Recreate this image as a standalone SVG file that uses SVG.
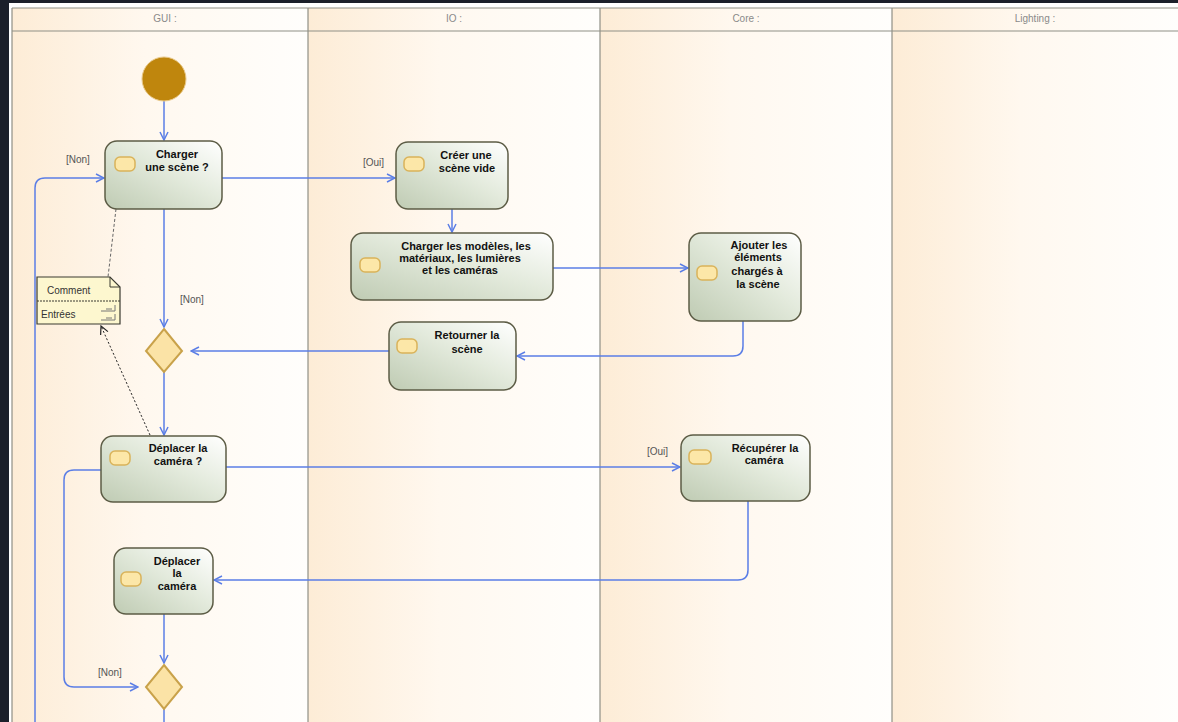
<svg xmlns="http://www.w3.org/2000/svg" width="1178" height="722" viewBox="0 0 1178 722">
  <defs>
    <linearGradient id="lane" x1="0" y1="0" x2="1" y2="0">
      <stop offset="0" stop-color="#fdecd6"/>
      <stop offset="0.45" stop-color="#fff8ef"/>
      <stop offset="1" stop-color="#fffefc"/>
    </linearGradient>
    <linearGradient id="act" x1="0" y1="1" x2="1" y2="0">
      <stop offset="0" stop-color="#bfcbb3"/>
      <stop offset="0.55" stop-color="#e3eadc"/>
      <stop offset="1" stop-color="#ffffff"/>
    </linearGradient>
    <marker id="arr" viewBox="0 0 10 10" refX="9" refY="5" markerWidth="10" markerHeight="10" markerUnits="userSpaceOnUse" orient="auto">
      <path d="M1,1 L9,5 L1,9" fill="none" stroke="#5b7ee6" stroke-width="1.5"/>
    </marker>
    <marker id="darr" viewBox="0 0 10 10" refX="9" refY="5" markerWidth="10" markerHeight="10" markerUnits="userSpaceOnUse" orient="auto">
      <path d="M1,1 L9,5 L1,9" fill="none" stroke="#222" stroke-width="1.2"/>
    </marker>
  </defs>
  <style>
    .hdr { font-family: "Liberation Sans", Arial, sans-serif; font-size: 10px; fill: #8a8a8a; text-anchor: middle; }
    .node rect.box { fill: url(#act); stroke: #5c5c45; stroke-width: 1.5; }
    .node rect.ico { fill: #fce7a8; stroke: #d9b35a; stroke-width: 1.5; }
    .node text { font-family: "Liberation Sans", Arial, sans-serif; font-size: 11px; font-weight: bold; fill: #111; text-anchor: middle; }
    .lbl { font-family: "Liberation Sans", Arial, sans-serif; font-size: 10px; fill: #555; }
    .edge { fill: none; stroke: #5b7ee6; stroke-width: 1.5; }
    .dia { fill: #fbe3a6; stroke: #c9a24a; stroke-width: 2; }
    .lane-line { stroke: #8f8f86; stroke-width: 1.2; }
  </style>

  <!-- backdrop -->
  <rect x="0" y="0" width="1178" height="722" fill="#1b1f2a"/>
  <rect x="9" y="3" width="1169" height="719" fill="#ffffff"/>

  <!-- swimlanes -->
  <g id="lanes">
    <rect x="12" y="8" width="296" height="714" fill="url(#lane)"/>
    <rect x="308" y="8" width="292" height="714" fill="url(#lane)"/>
    <rect x="600" y="8" width="292" height="714" fill="url(#lane)"/>
    <rect x="892" y="8" width="286" height="714" fill="url(#lane)"/>
    <line class="lane-line" x1="12" y1="8" x2="1178" y2="8"/>
    <line class="lane-line" x1="12" y1="31" x2="1178" y2="31"/>
    <line class="lane-line" x1="12" y1="8" x2="12" y2="722"/>
    <line class="lane-line" x1="308" y1="8" x2="308" y2="722"/>
    <line class="lane-line" x1="600" y1="8" x2="600" y2="722"/>
    <line class="lane-line" x1="892" y1="8" x2="892" y2="722"/>
    <text class="hdr" x="165" y="22">GUI :</text>
    <text class="hdr" x="454" y="22">IO :</text>
    <text class="hdr" x="746" y="22">Core :</text>
    <text class="hdr" x="1035" y="22">Lighting :</text>
  </g>

  <!-- connectors -->
  <g id="connectors">
    <path class="edge" d="M164,101 V140" marker-end="url(#arr)"/>
    <path class="edge" d="M222,178 H395" marker-end="url(#arr)"/>
    <text class="lbl" x="363" y="166">[Oui]</text>
    <path class="edge" d="M164,209 V327" marker-end="url(#arr)"/>
    <text class="lbl" x="180" y="303">[Non]</text>
    <path class="edge" d="M35,722 V188 Q35,178 45,178 H104" marker-end="url(#arr)"/>
    <text class="lbl" x="66" y="163">[Non]</text>
    <path class="edge" d="M452,209 V232" marker-end="url(#arr)"/>
    <path class="edge" d="M553,268 H688" marker-end="url(#arr)"/>
    <path class="edge" d="M743,321 V346 Q743,356 733,356 H517" marker-end="url(#arr)"/>
    <path class="edge" d="M389,351 H191" marker-end="url(#arr)"/>
    <path class="edge" d="M164,372 V435" marker-end="url(#arr)"/>
    <path class="edge" d="M226,467 H680" marker-end="url(#arr)"/>
    <text class="lbl" x="647" y="455">[Oui]</text>
    <path class="edge" d="M748,501 V570 Q748,580 738,580 H214" marker-end="url(#arr)"/>
    <path class="edge" d="M164,614 V663" marker-end="url(#arr)"/>
    <path class="edge" d="M101,470 H74 Q64,470 64,480 V677 Q64,687 74,687 H138" marker-end="url(#arr)"/>
    <text class="lbl" x="98" y="676">[Non]</text>
    <path class="edge" d="M164,709 V722"/>
    <!-- comment links -->
    <path d="M116,209 L108,277" fill="none" stroke="#666" stroke-width="1" stroke-dasharray="3,2"/>
    <path d="M150,435 L101,326" fill="none" stroke="#222" stroke-width="1" stroke-dasharray="2,2" marker-end="url(#darr)"/>
  </g>

  <!-- initial node -->
  <g id="start">
    <circle cx="164" cy="79" r="22" fill="#bf860d" stroke="#e9c98a" stroke-width="1"/>
  </g>

  <g id="charger-scene" class="node">
    <rect class="box" x="105" y="141" width="117" height="68" rx="12"/>
    <rect class="ico" x="115" y="157" width="20" height="14" rx="5"/>
    <text x="177" y="158">Charger</text>
    <text x="177" y="171">une scène ?</text>
  </g>

  <g id="creer-scene" class="node">
    <rect class="box" x="396" y="142" width="112" height="67" rx="12"/>
    <rect class="ico" x="404" y="157" width="20" height="14" rx="5"/>
    <text x="466" y="159">Créer une</text>
    <text x="467" y="172">scène vide</text>
  </g>

  <g id="charger-modeles" class="node">
    <rect class="box" x="351" y="233" width="202" height="67" rx="12"/>
    <rect class="ico" x="360" y="258" width="20" height="14" rx="5"/>
    <text x="466" y="250">Charger les modèles, les</text>
    <text x="460" y="262">matériaux, les lumières</text>
    <text x="460" y="274">et les caméras</text>
  </g>

  <g id="ajouter" class="node">
    <rect class="box" x="689" y="233" width="112" height="88" rx="12"/>
    <rect class="ico" x="697" y="266" width="20" height="14" rx="5"/>
    <text x="759" y="249">Ajouter les</text>
    <text x="758" y="261">éléments</text>
    <text x="757" y="275">chargés à</text>
    <text x="758" y="288">la scène</text>
  </g>

  <g id="retourner" class="node">
    <rect class="box" x="389" y="322" width="127" height="68" rx="12"/>
    <rect class="ico" x="397" y="339" width="20" height="14" rx="5"/>
    <text x="467" y="339">Retourner la</text>
    <text x="467" y="353">scène</text>
  </g>

  <g id="merge-1">
    <polygon class="dia" points="164,329 182,351 164,372 146,351"/>
  </g>

  <g id="deplacer-question" class="node">
    <rect class="box" x="101" y="436" width="125" height="66" rx="12"/>
    <rect class="ico" x="110" y="451" width="20" height="14" rx="5"/>
    <text x="178" y="452">Déplacer la</text>
    <text x="178" y="465">caméra ?</text>
  </g>

  <g id="recuperer" class="node">
    <rect class="box" x="681" y="435" width="129" height="66" rx="12"/>
    <rect class="ico" x="689" y="450" width="22" height="14" rx="5"/>
    <text x="765" y="452">Récupérer la</text>
    <text x="764" y="464">caméra</text>
  </g>

  <g id="deplacer" class="node">
    <rect class="box" x="114" y="548" width="99" height="66" rx="12"/>
    <rect class="ico" x="121" y="572" width="20" height="14" rx="5"/>
    <text x="177" y="565">Déplacer</text>
    <text x="177" y="577">la</text>
    <text x="177" y="590">caméra</text>
  </g>

  <g id="merge-2">
    <polygon class="dia" points="164,665 182,687 164,709 146,687"/>
  </g>

  <g id="note">
    <path d="M37,277 H110 L120,287 V324 H37 Z" fill="#fdf7cf" stroke="#3a3a30" stroke-width="1.2"/>
    <path d="M110,277 V287 H120" fill="none" stroke="#3a3a30" stroke-width="1"/>
    <line x1="37" y1="301" x2="120" y2="301" stroke="#3a3a30" stroke-width="1" stroke-dasharray="2,1"/>
    <text x="47" y="294" font-family="'Liberation Sans', Arial, sans-serif" font-size="10" fill="#333">Comment</text>
    <text x="41" y="318" font-family="'Liberation Sans', Arial, sans-serif" font-size="10" fill="#333">Entrées</text>
    <path d="M101,311 H115 V305 M101,320 H115 V314 M106,309 H112 M106,318 H112" fill="none" stroke="#777" stroke-width="1"/>
  </g>
</svg>
